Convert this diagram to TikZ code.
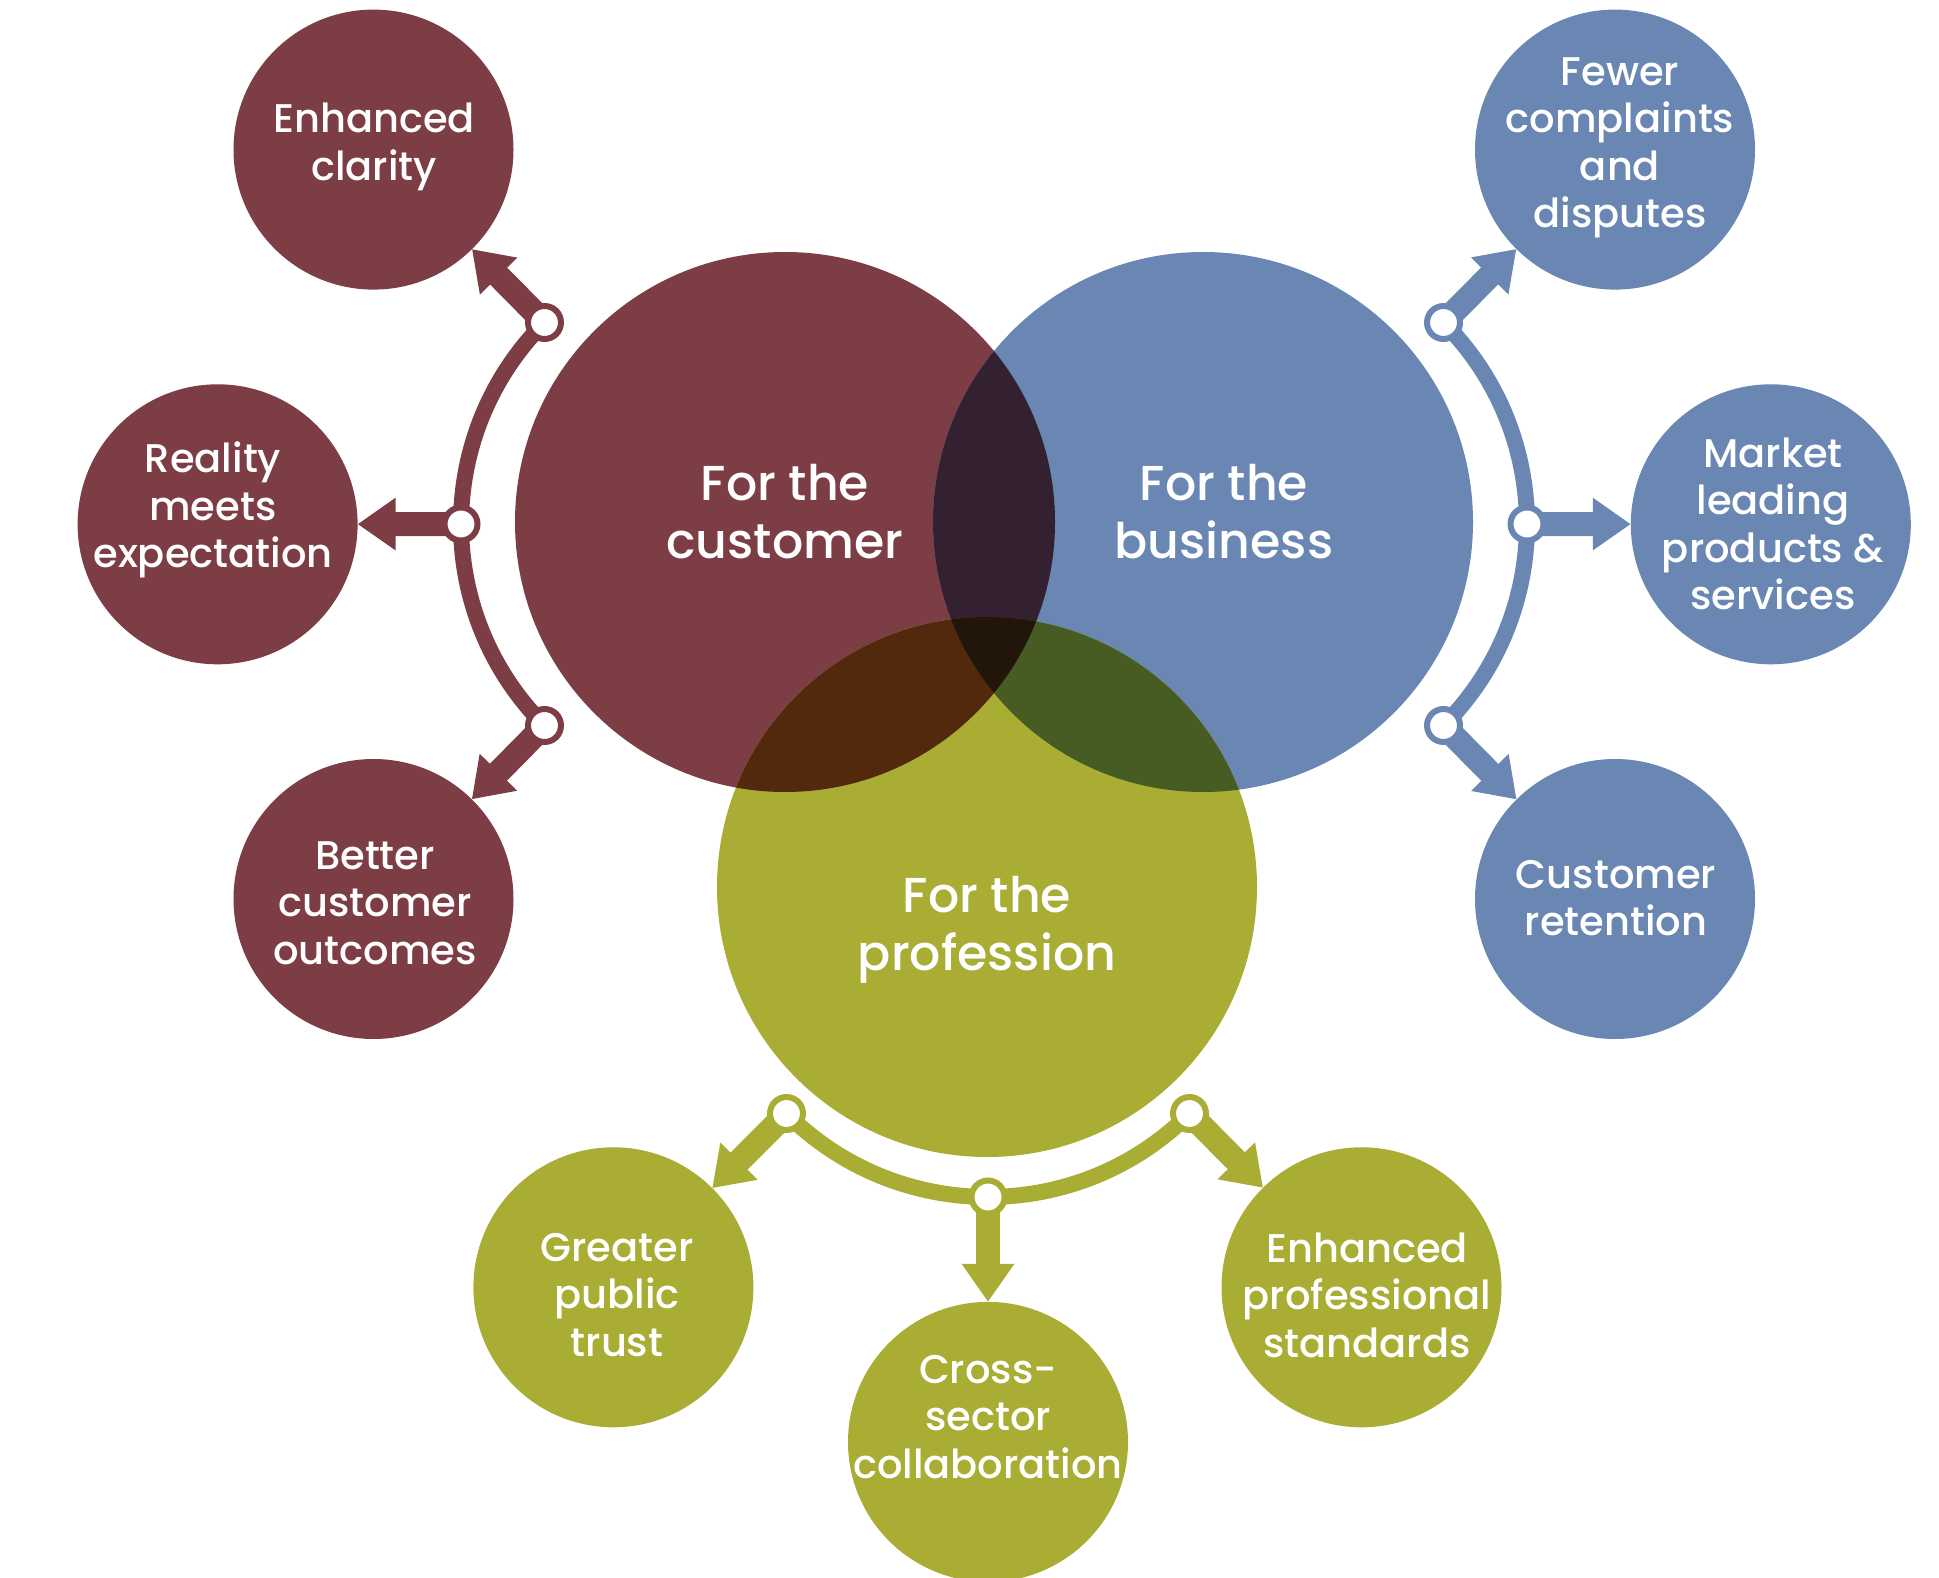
\documentclass[tikz,border=0pt]{standalone}
\usepackage{fontspec}
\setmainfont{Poppins Medium}
\usetikzlibrary{arrows.meta}
\definecolor{cmar}{RGB}{125,61,69}
\definecolor{cblu}{RGB}{105,135,178}
\definecolor{coli}{RGB}{169,173,51}
\definecolor{cmb}{RGB}{51,32,48}
\definecolor{cmo}{RGB}{83,41,14}
\definecolor{cbo}{RGB}{70,92,35}
\definecolor{cmbo}{RGB}{34,22,10}
\begin{document}
\begin{tikzpicture}[x=1pt,y=-1pt,
  smallc/.style={circle, minimum size=280pt, inner sep=0pt, outer sep=0pt, fill=#1},
  dotc/.style={circle, minimum size=33pt, inner sep=0pt, outer sep=0pt, fill=white, draw=#1, line width=6pt},
  arcl/.style={draw=#1, line width=16pt},
  arrw/.style={draw=#1, line width=24pt, -{Triangle[width=50pt,length=38pt]}},
  bigt/.style={text=white, align=center, font=\fontsize{49}{58}\selectfont},
  smallt/.style={text=white, align=center, font=\fontsize{40}{47.5}\selectfont}]
\useasboundingbox (0,0) rectangle (1939,1578);

% big circles
\fill[cmar] (785,522) circle[radius=270];
\fill[cblu] (1203,522) circle[radius=270];
\fill[coli] (987,887) circle[radius=270];
\begin{scope}
  \clip (785,522) circle[radius=270];
  \fill[cmb] (1203,522) circle[radius=270];
  \fill[cmo] (987,887) circle[radius=270];
  \clip (1203,522) circle[radius=270];
  \fill[cmbo] (987,887) circle[radius=270];
\end{scope}
\begin{scope}
  \clip (1203,522) circle[radius=270];
  \clip (987,887) circle[radius=270];
  \fill[cbo] (1203,522) circle[radius=270];
  \clip (785,522) circle[radius=270];
  \fill[cmbo] (987,887) circle[radius=270];
\end{scope}

\node[bigt] (tcust) at (785,512) {For the\\customer};
\node[bigt] (tbus) at (1224,512) {For the\\business};
\node[bigt] (tprof) at (987,930) {For the\\profession};

% small circles
\node[smallc=cmar] (clarity) at (373.5,149.6) {};
\node[smallc=cmar] (reality) at (217.6,524.3) {};
\node[smallc=cmar] (better) at (373.5,899) {};
\node[smallc=cblu] (fewer) at (1615,149.6) {};
\node[smallc=cblu] (market) at (1770.8,524.3) {};
\node[smallc=cblu] (retention) at (1615,899) {};
\node[smallc=coli] (greater) at (613.4,1287.3) {};
\node[smallc=coli] (cross) at (988,1441.9) {};
\node[smallc=coli] (standards) at (1361.5,1287.3) {};

\node[smallt] at (374,147) {Enhanced\\clarity};
\node[smallt] at (213,510) {Reality\\meets\\expectation};
\node[smallt] at (375,903) {Better\\customer\\outcomes};
\node[smallt] at (1620,148) {Fewer\\complaints\\and\\disputes};
\node[smallt] at (1773,524) {Market\\leading\\products \&\\services};
\node[smallt] at (1616,898) {Customer\\retention};
\node[smallt] at (617,1295) {Greater\\public\\trust};
\node[smallt] at (988,1417) {Cross-\\sector\\collaboration};
\node[smallt] at (1367,1295) {Enhanced\\professional\\standards};

% dot positions
\coordinate (l1) at (544.5,322.5);
\coordinate (l2) at (461,524);
\coordinate (l3) at (544.5,725.5);
\coordinate (r1) at (1443.5,322.5);
\coordinate (r2) at (1527,524);
\coordinate (r3) at (1443.5,725.5);
\coordinate (b1) at (786.5,1113.5);
\coordinate (b2) at (988,1197);
\coordinate (b3) at (1189.5,1113.5);

% arcs
\draw[arcl=cmar] (l1) arc[start angle=225, end angle=135, radius=285];
\draw[arcl=cblu] (r1) arc[start angle=-45, end angle=45, radius=285];
\draw[arcl=coli] (b1) arc[start angle=135, end angle=45, radius=285];

% arrows
\draw[arrw=cmar] (l1) -- (clarity);
\draw[arrw=cmar] (l2) -- (reality);
\draw[arrw=cmar] (l3) -- (better);
\draw[arrw=cblu] (r1) -- (fewer);
\draw[arrw=cblu] (r2) -- (market);
\draw[arrw=cblu] (r3) -- (retention);
\draw[arrw=coli] (b1) -- (greater);
\draw[arrw=coli] (b2) -- (cross);
\draw[arrw=coli] (b3) -- (standards);

% dots
\node[dotc=cmar] (d1) at (l1) {};
\node[dotc=cmar] (d2) at (l2) {};
\node[dotc=cmar] (d3) at (l3) {};
\node[dotc=cblu] (d4) at (r1) {};
\node[dotc=cblu] (d5) at (r2) {};
\node[dotc=cblu] (d6) at (r3) {};
\node[dotc=coli] (d7) at (b1) {};
\node[dotc=coli] (d8) at (b2) {};
\node[dotc=coli] (d9) at (b3) {};
\end{tikzpicture}
\end{document}
